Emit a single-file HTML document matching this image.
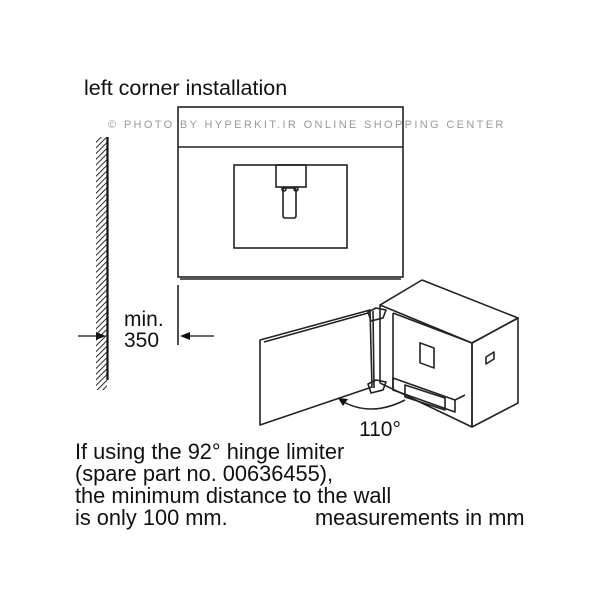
<!DOCTYPE html>
<html><head><style>
html,body{margin:0;padding:0;background:#fff}
svg{display:block}
text{font-family:"Liberation Sans",Arial,sans-serif;fill:#111}
</style></head><body>
<svg width="600" height="600" viewBox="0 0 600 600" xmlns="http://www.w3.org/2000/svg">
<defs>
<pattern id="h" width="4" height="4" patternUnits="userSpaceOnUse" patternTransform="rotate(45)">
<line x1="0" y1="0" x2="0" y2="4" stroke="#111" stroke-width="1.8"/>
</pattern>
</defs>
<text x="84" y="95" font-size="21.5">left corner installation</text>
<rect x="96" y="137" width="11" height="253" fill="url(#h)"/>
<line x1="107.5" y1="137" x2="107.5" y2="380" stroke="#111" stroke-width="2.2"/>
<g fill="none" stroke="#222" stroke-width="1.6">
<rect x="178" y="107" width="225" height="170"/>
<line x1="178" y1="147" x2="403" y2="147"/>
<line x1="180" y1="279" x2="401" y2="279"/>
<rect x="234" y="165" width="113" height="83"/>
<rect x="276" y="165" width="30" height="22"/>
<rect x="283" y="188" width="13" height="30" rx="2"/>
<circle cx="284" cy="189" r="2"/><circle cx="296" cy="189" r="2"/>
<line x1="178" y1="285" x2="178" y2="345"/>
</g>
<text x="108" y="128" font-size="11" style="fill:#999" letter-spacing="2.35">© PHOTO BY HYPERKIT.IR ONLINE SHOPPING CENTER</text>
<line x1="78" y1="336" x2="100" y2="336" stroke="#111" stroke-width="1.3"/>
<polygon points="106,336 96,332 96,340" fill="#111"/>
<line x1="184" y1="336" x2="214" y2="336" stroke="#111" stroke-width="1.3"/>
<polygon points="180,336 190,332 190,340" fill="#111"/>
<text x="124" y="326" font-size="21">min.</text>
<text x="124" y="347" font-size="21">350</text>
<g fill="none" stroke="#222" stroke-width="1.6" stroke-linejoin="round">
<polygon points="380,305 422,280 518,318 472,343"/>
<polygon points="472,343 518,318 518,403 472,427"/>
<line x1="393" y1="313" x2="393" y2="390"/>
<line x1="393" y1="313" x2="472" y2="343"/>
<line x1="380" y1="305" x2="380" y2="383"/>
<line x1="472" y1="343" x2="472" y2="427"/>
<line x1="380" y1="383" x2="472" y2="427"/>
<polygon points="393,378 455,400 455,412 393,390"/>
<polygon points="405,385 445,398 445,410 405,397"/>
<rect x="420" y="343" width="14" height="20" transform="skewY(20) translate(0,-153)"/>
<polygon points="486,357 494,352 494,359 486,364" />
<line x1="455" y1="400" x2="465" y2="395"/>
<polygon points="260,340 370,310 372,387 260,425"/>
<line x1="264" y1="342" x2="368" y2="313"/>
<line x1="373" y1="311" x2="374" y2="388"/>
<path d="M368,312 l8,-4 l10,2 l-3,8 l-12,3 z"/>
<path d="M368,384 l8,-4 l10,2 l-3,8 l-12,3 z"/>
<path d="M340,400 Q370,418 405,400"/>
</g>
<polygon points="338,398 348,399 343,406" fill="#111"/>
<text x="359" y="436" font-size="21">110°</text>
<text x="75" y="459" font-size="21.8">If using the 92° hinge limiter</text>
<text x="75" y="481" font-size="21.8">(spare part no. 00636455),</text>
<text x="75" y="503" font-size="21.8">the minimum distance to the wall</text>
<text x="75" y="525" font-size="21.8">is only 100 mm.</text>
<text x="315" y="525" font-size="21.8">measurements in mm</text>
</svg>
</body></html>
